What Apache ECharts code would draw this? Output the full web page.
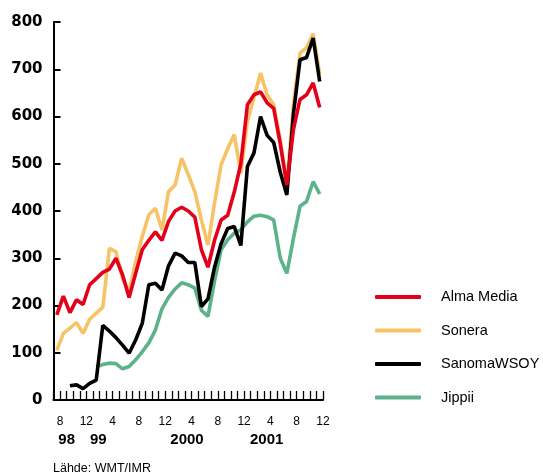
<!DOCTYPE html>
<html>
<head>
<meta charset="utf-8">
<script src="https://cdn.jsdelivr.net/npm/echarts@6/dist/echarts.min.js"></script>
<style>
html,body{margin:0;padding:0;background:#fff;}
#chart{width:543px;height:476px;}
</style>
</head>
<body>
<div id="chart"></div>
<script>
// Monthly data points (mid-month), Jul 1998 .. Nov 2001
const months = [
  '1998-07','1998-08','1998-09','1998-10','1998-11','1998-12',
  '1999-01','1999-02','1999-03','1999-04','1999-05','1999-06','1999-07','1999-08','1999-09','1999-10','1999-11','1999-12',
  '2000-01','2000-02','2000-03','2000-04','2000-05','2000-06','2000-07','2000-08','2000-09','2000-10','2000-11','2000-12',
  '2001-01','2001-02','2001-03','2001-04','2001-05','2001-06','2001-07','2001-08','2001-09','2001-10','2001-11'
];
// Month-start tick positions, Jul 1998 .. Dec 2001
const tickMonths = months.concat(['2001-12']);
const yearLabels = ['98', '99', '2000', '2001'];
const sourceText = 'Lähde: WMT/IMR';

const almaMedia = [180,220,185,212,202,244,257,270,277,300,265,217,268,318,338,356,338,378,400,408,400,387,318,281,338,381,391,440,500,625,646,652,629,617,542,455,572,636,646,671,619];
const sonera = [105,141,152,164,141,171,184,196,321,314,257,230,293,346,392,406,360,441,455,512,477,441,381,328,417,498,532,562,480,590,640,692,646,625,550,455,625,734,746,775,690];
const sanomaWSOY = [null,null,30,32,24,35,42,158,146,132,116,99,127,162,244,247,233,284,311,305,291,291,198,214,281,331,363,367,327,494,523,600,560,545,482,434,605,720,725,766,674];
const jippii = [null,null,null,null,null,null,70,75,78,77,66,71,85,102,121,148,193,217,235,248,244,237,190,177,252,318,339,353,360,377,389,391,388,381,300,268,342,410,420,462,436];

const NARROW = "'Liberation Sans Narrow','Arial Narrow','Liberation Sans',Arial,sans-serif";
const colors = {alma:'#E2001A', sonera:'#F6C366', sanoma:'#000000', jippii:'#5CB28B'};

const chart = echarts.init(document.getElementById('chart'), null, {renderer:'canvas'});

function mkSeries(name, data, color){
  return {
    name: name, type: 'line', data: data, symbol: 'none', connectNulls: false,
    lineStyle: {color: color, width: 3.6},
    itemStyle: {color: color},
    emphasis: {disabled: true}, animation: false
  };
}

chart.setOption({
  animation: false,
  grid: {left: 53.5, right: 220, top: 22, bottom: 76},
  legend: {
    orient: 'vertical', left: 375, top: 287, padding: 0,
    data: ['Alma Media','Sonera','SanomaWSOY','Jippii'],
    itemWidth: 46, itemHeight: 4, itemGap: 13.5, icon: 'roundRect',
    textStyle: {fontFamily: NARROW, fontSize: 14.5, color: '#000', lineHeight: 20, padding: [0,0,0,15]},
    selectedMode: false
  },
  xAxis: [
    {
      type: 'category', data: months, boundaryGap: true, position: 'bottom',
      axisLine: {show: true, lineStyle: {color: '#000', width: 2}},
      axisTick: {show: true, inside: true, length: 9, interval: 0, lineStyle: {color: '#000', width: 1.3}},
      axisLabel: {show: false}, splitLine: {show: false}
    },
    {
      type: 'category', data: tickMonths, boundaryGap: false, position: 'bottom',
      axisLine: {show: false}, axisTick: {show: false}, splitLine: {show: false},
      axisLabel: {
        show: true, margin: 16, fontFamily: NARROW, fontSize: 12, color: '#000',
        interval: function(i, v){ return parseInt(v.slice(5), 10) % 4 === 0; },
        formatter: function(v){ return String(parseInt(v.slice(5), 10)); }
      }
    }
  ],
  yAxis: {
    type: 'value', min: 0, max: 800, interval: 100,
    axisLine: {show: true, lineStyle: {color: '#000', width: 2}},
    axisTick: {show: true, inside: true, length: 7, lineStyle: {color: '#000', width: 2}},
    splitLine: {show: false},
    axisLabel: {margin: 11, fontFamily: "'DejaVu Sans',sans-serif", fontWeight: 'bold', fontSize: 15, color: '#000'}
  },
  series: [
    mkSeries('Jippii', jippii, colors.jippii),
    mkSeries('Sonera', sonera, colors.sonera),
    mkSeries('SanomaWSOY', sanomaWSOY, colors.sanoma),
    mkSeries('Alma Media', almaMedia, colors.alma)
  ],
  graphic: [
    {type:'text', x:66.7, y:439.5, style:{text:yearLabels[0], font:"bold 15px 'Liberation Sans',Arial,sans-serif", fill:'#000', align:'center', verticalAlign:'middle'}},
    {type:'text', x:98.3, y:439.5, style:{text:yearLabels[1], font:"bold 15px 'Liberation Sans',Arial,sans-serif", fill:'#000', align:'center', verticalAlign:'middle'}},
    {type:'text', x:187, y:439.5, style:{text:yearLabels[2], font:"bold 15px 'Liberation Sans',Arial,sans-serif", fill:'#000', align:'center', verticalAlign:'middle'}},
    {type:'text', x:266.7, y:439.5, style:{text:yearLabels[3], font:"bold 15px 'Liberation Sans',Arial,sans-serif", fill:'#000', align:'center', verticalAlign:'middle'}},
    {type:'text', x:53, y:469, style:{text:sourceText, font:"12.5px " + NARROW, fill:'#000', align:'left', verticalAlign:'middle'}}
  ]
});
</script>
</body>
</html>
